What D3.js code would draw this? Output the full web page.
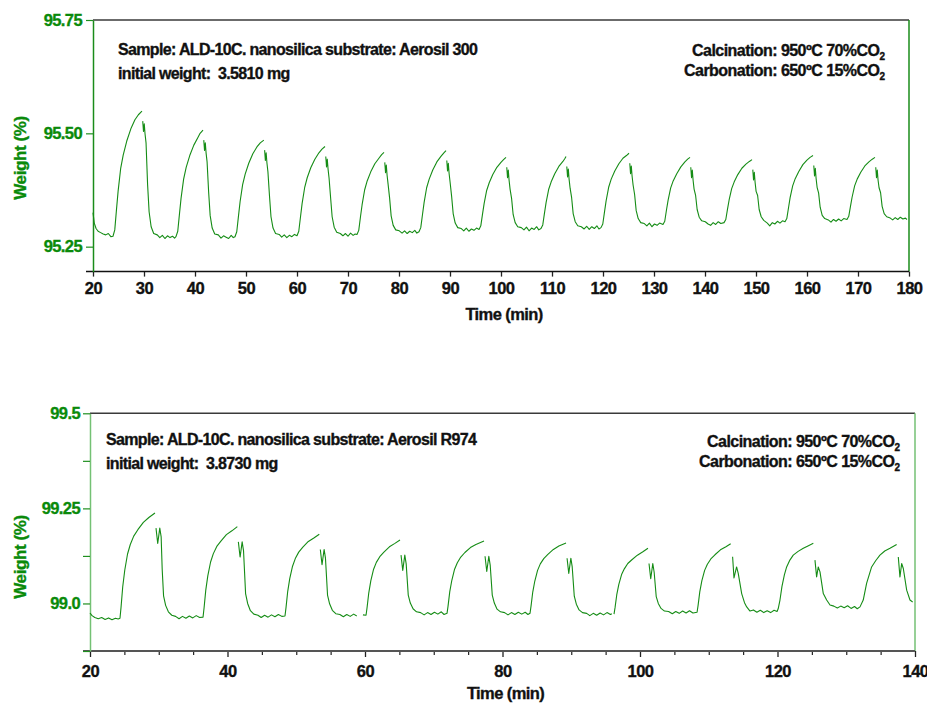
<!DOCTYPE html>
<html>
<head>
<meta charset="utf-8">
<script src="https://cdn.jsdelivr.net/npm/d3@7"></script>
<style>
    body { margin: 0; background: #fff; }
    svg text { font-family: "Liberation Sans", Arial, sans-serif; font-weight: bold; stroke-width: 0.35px; }
</style>
</head>
<body>
<div id="chart"></div>
<script>

// ---- data: [time (min), weight (%)], null = gap in the record ----

const topTrace = [
    [20.00,95.325],[20.25,95.302],[20.60,95.290],[21.00,95.284],[21.50,95.281],[22.00,95.278],[22.50,95.276],[23.00,95.279],[23.50,95.272],[23.92,95.273],
    [24.27,95.287],[24.62,95.334],[24.92,95.372],[25.42,95.422],[25.92,95.452],[26.62,95.483],[27.42,95.510],[28.22,95.530],[28.90,95.541],[29.60,95.549],[29.66,null],
    [29.75,95.527],[29.90,95.504],[30.05,95.521],[30.20,95.499],[30.40,95.479],[30.70,95.388],[31.00,95.327],[31.40,95.294],[31.90,95.279],[32.60,95.276],
    [33.10,95.270],[33.60,95.275],[34.10,95.268],[34.60,95.274],[35.10,95.270],[35.60,95.273],[36.00,95.269],[36.27,95.272],
    [36.62,95.284],[36.97,95.324],[37.27,95.357],[37.77,95.399],[38.27,95.425],[38.97,95.451],[39.77,95.474],[40.57,95.491],[41.00,95.500],[41.57,95.507],[41.63,null],
    [41.72,95.485],[41.87,95.462],[42.02,95.479],[42.17,95.457],[42.37,95.437],[42.67,95.371],[42.97,95.319],[43.37,95.291],[43.87,95.278],[44.57,95.276],
    [45.10,95.269],[45.60,95.274],[46.10,95.271],[46.60,95.268],[47.10,95.275],[47.50,95.270],[47.84,95.272],
    [48.19,95.283],[48.54,95.319],[48.84,95.349],[49.34,95.387],[49.84,95.410],[50.54,95.434],[51.34,95.455],[52.14,95.470],[52.80,95.479],[53.50,95.485],[53.56,null],
    [53.65,95.463],[53.80,95.440],[53.95,95.457],[54.10,95.435],[54.30,95.415],[54.60,95.363],[54.90,95.316],[55.30,95.291],[55.80,95.279],[56.50,95.277],
    [57.00,95.271],[57.50,95.276],[58.00,95.270],[58.50,95.275],[59.00,95.272],[59.50,95.277],[60.00,95.274],
    [60.35,95.284],[60.70,95.317],[61.00,95.345],[61.50,95.380],[62.00,95.402],[62.70,95.424],[63.50,95.443],[64.30,95.457],[64.90,95.465],[65.49,95.471],[65.55,null],
    [65.64,95.449],[65.79,95.426],[65.94,95.443],[66.09,95.421],[66.29,95.401],[66.59,95.358],[66.89,95.316],[67.29,95.293],[67.79,95.282],[68.49,95.279],
    [69.00,95.274],[69.50,95.279],[70.00,95.273],[70.50,95.280],[71.00,95.275],[71.40,95.278],[71.76,95.277],
    [72.11,95.286],[72.46,95.317],[72.76,95.342],[73.26,95.375],[73.76,95.395],[74.46,95.415],[75.26,95.433],[76.06,95.445],[76.60,95.453],[77.06,95.458],[77.12,null],
    [77.21,95.436],[77.36,95.413],[77.51,95.430],[77.66,95.408],[77.86,95.388],[78.16,95.357],[78.46,95.318],[78.86,95.297],[79.36,95.287],[80.06,95.285],
    [80.60,95.280],[81.10,95.285],[81.60,95.279],[82.10,95.284],[82.60,95.281],[83.10,95.286],[83.50,95.280],[83.92,95.283],
    [84.27,95.292],[84.62,95.322],[84.92,95.347],[85.42,95.380],[85.92,95.399],[86.62,95.419],[87.42,95.437],[88.22,95.449],[88.80,95.457],[89.22,95.462],[89.28,null],
    [89.37,95.440],[89.52,95.417],[89.67,95.434],[89.82,95.412],[90.02,95.392],[90.32,95.361],[90.62,95.323],[91.02,95.302],[91.52,95.292],[92.22,95.290],
    [92.70,95.285],[93.20,95.291],[93.70,95.284],[94.20,95.289],[94.70,95.286],[95.20,95.291],[95.69,95.288],
    [96.04,95.296],[96.39,95.323],[96.69,95.345],[97.19,95.374],[97.69,95.391],[98.39,95.409],[99.19,95.425],[99.99,95.436],[100.50,95.442],[100.98,95.447],[101.04,null],
    [101.13,95.425],[101.28,95.402],[101.43,95.419],[101.58,95.397],[101.78,95.377],[102.08,95.356],[102.38,95.321],[102.78,95.303],[103.28,95.294],[103.98,95.292],
    [104.50,95.287],[105.00,95.293],[105.50,95.285],[106.00,95.291],[106.50,95.288],[107.00,95.294],[107.40,95.287],[107.84,95.290],
    [108.19,95.298],[108.54,95.325],[108.84,95.347],[109.34,95.376],[109.84,95.393],[110.54,95.411],[111.34,95.427],[112.14,95.438],[112.50,95.444],[112.75,95.449],[112.81,null],
    [112.90,95.427],[113.05,95.404],[113.20,95.421],[113.35,95.399],[113.55,95.379],[113.85,95.358],[114.15,95.323],[114.55,95.305],[115.05,95.296],[115.75,95.294],
    [116.30,95.289],[116.80,95.295],[117.30,95.288],[117.80,95.294],[118.30,95.290],[118.80,95.296],[119.20,95.289],[119.61,95.292],
    [119.96,95.300],[120.31,95.328],[120.61,95.351],[121.11,95.381],[121.61,95.399],[122.31,95.417],[123.11,95.433],[123.91,95.445],[124.60,95.451],[125.10,95.456],[125.16,null],
    [125.25,95.434],[125.40,95.411],[125.55,95.428],[125.70,95.406],[125.90,95.386],[126.20,95.365],[126.50,95.330],[126.90,95.312],[127.40,95.303],[128.10,95.301],
    [128.60,95.296],[129.10,95.302],[129.60,95.294],[130.10,95.300],[130.60,95.297],[131.10,95.302],[131.76,95.299],
    [132.11,95.306],[132.46,95.332],[132.76,95.352],[133.26,95.379],[133.76,95.395],[134.46,95.411],[135.26,95.426],[136.06,95.437],[136.60,95.443],[137.06,95.447],[137.12,null],
    [137.21,95.425],[137.36,95.402],[137.51,95.419],[137.66,95.397],[137.86,95.377],[138.16,95.363],[138.46,95.332],[138.86,95.315],[139.36,95.307],[140.06,95.305],
    [140.60,95.300],[141.10,95.297],[141.60,95.303],[142.10,95.299],[142.60,95.305],[143.10,95.301],[143.73,95.303],
    [144.08,95.310],[144.43,95.334],[144.73,95.353],[145.23,95.378],[145.73,95.393],[146.43,95.409],[147.23,95.423],[148.03,95.432],[148.70,95.438],[149.22,95.442],[149.28,null],
    [149.37,95.420],[149.52,95.397],[149.67,95.414],[149.82,95.392],[150.02,95.372],[150.32,95.363],[150.62,95.332],[151.02,95.316],[151.52,95.308],[152.22,95.302],
    [152.70,95.296],[153.20,95.303],[153.70,95.300],[154.20,95.306],[154.70,95.302],[155.20,95.307],[155.69,95.305],
    [156.04,95.312],[156.39,95.337],[156.69,95.358],[157.19,95.384],[157.69,95.400],[158.39,95.416],[159.19,95.431],[159.99,95.441],[160.60,95.447],[161.18,95.451],[161.24,null],
    [161.33,95.429],[161.48,95.406],[161.63,95.423],[161.78,95.401],[161.98,95.381],[162.28,95.368],[162.58,95.337],[162.98,95.319],[163.48,95.312],[164.18,95.309],
    [164.70,95.304],[165.20,95.310],[165.70,95.306],[166.20,95.311],[166.70,95.307],[167.20,95.312],[167.84,95.310],
    [168.19,95.317],[168.54,95.340],[168.84,95.359],[169.34,95.384],[169.84,95.399],[170.54,95.414],[171.34,95.428],[172.14,95.437],[172.80,95.443],[173.33,95.447],[173.39,null],
    [173.48,95.425],[173.63,95.402],[173.78,95.419],[173.93,95.397],[174.13,95.380],[174.43,95.369],[174.73,95.339],[175.13,95.323],[175.63,95.316],[176.33,95.313],
    [176.80,95.309],[177.30,95.314],[177.80,95.310],[178.30,95.315],[178.80,95.311],[179.30,95.313],[179.60,95.310]
];

const bottomTrace = [
    [20.00,98.975],[20.30,98.968],[20.70,98.963],[21.20,98.960],[21.70,98.963],[22.20,98.958],[22.70,98.962],[23.20,98.957],[23.70,98.961],[24.10,98.959],[24.36,98.961],
    [24.51,98.989],[24.76,99.044],[25.06,99.088],[25.46,99.130],[25.86,99.155],[26.36,99.177],[26.96,99.194],[27.76,99.213],[28.56,99.226],[29.45,99.238],[29.52,null],
    [29.60,99.198],[29.85,99.158],[30.15,99.198],[30.35,99.175],[30.50,99.090],[30.70,99.020],[31.00,98.995],[31.40,98.978],[31.90,98.969],[32.45,98.966],
    [32.95,98.960],[33.45,98.966],[33.95,98.961],[34.45,98.967],[34.95,98.962],[35.45,98.968],[35.95,98.963],[36.44,98.964],
    [36.59,98.988],[36.84,99.035],[37.14,99.073],[37.54,99.109],[37.94,99.131],[38.44,99.150],[39.04,99.164],[39.84,99.181],[40.64,99.191],[41.43,99.202],[41.50,null],
    [41.58,99.162],[41.83,99.122],[42.13,99.162],[42.33,99.139],[42.63,99.026],[42.93,99.000],[43.33,98.981],[43.83,98.972],[44.43,98.969],
    [44.90,98.963],[45.40,98.969],[45.90,98.964],[46.40,98.970],[46.90,98.965],[47.40,98.971],[47.90,98.966],[48.36,98.967],
    [48.51,98.989],[48.76,99.032],[49.06,99.066],[49.46,99.098],[49.86,99.118],[50.36,99.135],[50.96,99.148],[51.76,99.163],[52.56,99.172],[53.35,99.182],[53.42,null],
    [53.50,99.142],[53.75,99.102],[54.05,99.142],[54.25,99.119],[54.55,99.022],[54.85,98.999],[55.25,98.982],[55.75,98.973],[56.35,98.971],
    [56.85,98.965],[57.35,98.971],[57.85,98.966],[58.35,98.972],[58.80,98.967],[59.20,null],[59.70,98.970],[60.15,98.969],
    [60.30,98.989],[60.55,99.028],[60.85,99.060],[61.25,99.090],[61.65,99.108],[62.15,99.123],[62.75,99.135],[63.55,99.149],[64.35,99.158],[65.09,99.167],[65.16,null],
    [65.24,99.127],[65.49,99.087],[65.79,99.127],[65.99,99.104],[66.29,99.022],[66.59,99.001],[66.99,98.986],[67.49,98.978],[68.09,98.976],
    [68.60,98.970],[69.10,98.976],[69.60,98.971],[70.10,98.977],[70.60,98.972],[71.10,98.978],[71.50,98.971],[71.93,98.974],
    [72.08,98.993],[72.33,99.031],[72.63,99.061],[73.03,99.090],[73.43,99.107],[73.93,99.122],[74.53,99.134],[75.33,99.147],[76.13,99.155],[77.31,99.164],[77.38,null],
    [77.46,99.124],[77.71,99.084],[78.01,99.124],[78.21,99.101],[78.51,99.022],[78.81,99.001],[79.21,98.985],[79.71,98.978],[80.31,98.976],
    [80.80,98.970],[81.30,98.976],[81.80,98.971],[82.30,98.977],[82.80,98.972],[83.30,98.977],[83.70,98.971],[84.00,98.974],
    [84.15,98.993],[84.40,99.030],[84.70,99.059],[85.10,99.087],[85.50,99.104],[86.00,99.118],[86.60,99.129],[87.40,99.142],[88.20,99.151],[89.24,99.159],[89.31,null],
    [89.39,99.119],[89.64,99.079],[89.94,99.119],[90.14,99.096],[90.44,99.019],[90.74,98.998],[91.14,98.983],[91.64,98.976],[92.24,98.974],
    [92.70,98.968],[93.20,98.974],[93.70,98.969],[94.20,98.975],[94.70,98.970],[95.20,98.976],[95.70,98.971],[95.90,98.973],[96.05,null],
    [96.22,98.972],[96.37,98.989],[96.62,99.023],[96.92,99.050],[97.32,99.076],[97.72,99.091],[98.22,99.105],[98.82,99.115],[99.62,99.127],[100.42,99.136],[101.16,99.145],[101.23,null],
    [101.31,99.105],[101.56,99.065],[101.86,99.105],[102.06,99.082],[102.36,99.018],[102.66,99.000],[103.06,98.987],[103.56,98.980],[104.16,98.979],
    [104.70,98.973],[105.20,98.979],[105.70,98.974],[106.20,98.980],[106.70,98.975],[107.20,98.981],[107.70,98.975],[108.30,98.977],
    [108.45,98.995],[108.70,99.031],[109.00,99.060],[109.40,99.087],[109.80,99.103],[110.30,99.117],[110.90,99.128],[111.70,99.141],[112.50,99.149],[113.19,99.157],[113.26,null],
    [113.47,99.123],[113.67,99.067],[114.05,99.096],[114.29,99.079],[114.79,99.026],[115.20,99.002],[115.52,98.991],[116.00,98.980],
    [116.50,98.983],[117.00,98.977],[117.50,98.982],[118.00,98.976],[118.50,98.981],[119.00,98.976],[119.50,98.982],[119.93,98.979],
    [120.10,98.986],[120.36,99.009],[120.65,99.045],[121.00,99.075],[121.33,99.096],[121.80,99.114],[122.29,99.127],[123.00,99.137],[123.75,99.145],[124.50,99.152],[125.21,99.158],[125.28,null],
    [125.45,99.114],[125.69,99.070],[125.93,99.096],[126.18,99.083],[126.66,99.026],[127.15,99.009],[127.64,98.996],[128.20,98.993],
    [128.70,98.988],[129.20,98.993],[129.70,98.989],[130.20,98.994],[130.70,98.987],[131.20,98.992],[131.60,98.986],[132.00,98.991],[132.47,99.009],
    [132.96,99.053],[133.69,99.096],[134.30,99.113],[134.90,99.127],[135.60,99.138],[136.36,99.145],[137.33,99.155],[137.40,null],
    [137.57,99.122],[137.81,99.070],[138.06,99.105],[138.30,99.092],[138.79,99.035],[139.27,99.009],[139.66,99.004]
];

// axis ticks
const topXTicks = d3.range(20, 181, 10);
const topYTicks = [95.25, 95.50, 95.75];
const bottomXTicks = [20, 40, 60, 80, 100, 120, 140];
const bottomXMinor = d3.range(25, 140, 5).filter(d => d % 20 !== 0);
const bottomYTicks = [99.0, 99.25, 99.5];
const bottomYMinor = [98.875, 99.125, 99.375];

// annotation texts
const topSample = ["Sample: ALD-10C. nanosilica substrate: Aerosil 300", "initial weight:  3.5810 mg"];
const bottomSample = ["Sample: ALD-10C. nanosilica substrate: Aerosil R974", "initial weight:  3.8730 mg"];
const conditions = [["Calcination: 950ºC 70%CO", "2"], ["Carbonation: 650ºC 15%CO", "2"]];


class TgaPanel {

    constructor(svg, opts) {
        this.svg = svg;
        this.opts = opts;
        this.initVis();
    }

    initVis() {
        let vis = this;
        let o = vis.opts;

        vis.x = d3.scaleLinear().domain(o.xDomain).range([o.left, o.right]);
        vis.y = d3.scaleLinear().domain(o.yDomain).range([o.bottom, o.top]);

        vis.g = vis.svg.append("g");

        // frame: top edge dark, right edge green
        vis.g.append("line")
            .attr("x1", o.left).attr("x2", o.right)
            .attr("y1", vis.y(o.yDomain[1])).attr("y2", vis.y(o.yDomain[1]))
            .attr("stroke", "#3a3a3a").attr("stroke-width", 1.5);
        vis.g.append("line")
            .attr("x1", o.right).attr("x2", o.right)
            .attr("y1", o.top).attr("y2", o.bottom)
            .attr("stroke", o.frameGreen).attr("stroke-width", 1.5);

        // x axis
        let xAxis = d3.axisBottom(vis.x)
            .tickValues(o.xTicks)
            .tickSize(o.xTickSize)
            .tickSizeOuter(0)
            .tickPadding(o.xTickPad);

        let xg = vis.g.append("g")
            .attr("transform", `translate(0,${o.bottom})`)
            .call(xAxis);
        xg.select(".domain").remove();
        xg.selectAll(".tick line").attr("stroke", "#222").attr("stroke-width", 1.3);
        xg.selectAll(".tick text")
            .attr("fill", "#111").attr("stroke", "#111")
            .style("font-size", "16.5px")
            .style("letter-spacing", "-0.5px");

        if (o.xMinor) {
            let xm = vis.g.append("g")
                .attr("transform", `translate(0,${o.bottom})`)
                .call(d3.axisBottom(vis.x).tickValues(o.xMinor).tickSize(4).tickFormat(""));
            xm.select(".domain").remove();
            xm.selectAll(".tick line").attr("stroke", "#222").attr("stroke-width", 1.2);
        }

        vis.g.append("line")
            .attr("x1", o.left - 7).attr("x2", o.right)
            .attr("y1", o.bottom).attr("y2", o.bottom)
            .attr("stroke", o.xAxisColor).attr("stroke-width", o.xAxisWidth);

        // y axis
        let yAxis = d3.axisLeft(vis.y)
            .tickValues(o.yTicks)
            .tickFormat(o.yFormat)
            .tickSize(7)
            .tickSizeOuter(0)
            .tickPadding(o.yTickPad);

        let yg = vis.g.append("g")
            .attr("transform", `translate(${o.left},0)`)
            .call(yAxis);
        yg.select(".domain").attr("stroke", o.frameGreen).attr("stroke-width", 1.5);
        yg.selectAll(".tick line").attr("stroke", "#1f8f1f").attr("stroke-width", 1.2);
        yg.selectAll(".tick text")
            .attr("fill", "#0a8a0a").attr("stroke", "#0a8a0a")
            .style("font-size", "16.5px")
            .style("letter-spacing", "-0.6px");

        if (o.yMinor) {
            let ym = vis.g.append("g")
                .attr("transform", `translate(${o.left},0)`)
                .call(d3.axisLeft(vis.y).tickValues(o.yMinor).tickSize(7).tickFormat(""));
            ym.select(".domain").remove();
            ym.selectAll(".tick line").attr("stroke", "#1f8f1f").attr("stroke-width", 1.2);
        }

        // axis titles
        vis.g.append("text")
            .attr("x", (o.left + o.right) / 2 + 3)
            .attr("y", o.xTitleY)
            .attr("text-anchor", "middle")
            .attr("fill", "#111").attr("stroke", "#111")
            .style("font-size", "16.5px")
            .style("letter-spacing", "-0.6px")
            .text("Time (min)");

        vis.g.append("text")
            .attr("transform", `translate(26,${o.yTitleY}) rotate(-90)`)
            .attr("text-anchor", "middle")
            .attr("fill", "#0a8a0a").attr("stroke", "#0a8a0a")
            .style("font-size", "17px")
            .style("letter-spacing", "-0.4px")
            .text("Weight (%)");

        // the weight trace
        let line = d3.line()
            .defined(d => d[1] !== null)
            .x(d => vis.x(d[0]))
            .y(d => vis.y(d[1]));

        vis.g.append("path")
            .datum(o.trace)
            .attr("fill", "none")
            .attr("stroke", "#158c15")
            .attr("stroke-width", 1.1)
            .attr("stroke-linejoin", "round")
            .attr("d", line);

        // notes
        vis.g.selectAll(".sample")
            .data(o.sample)
            .enter().append("text")
            .attr("class", "sample")
            .attr("x", o.sampleX)
            .attr("y", (d, i) => o.sampleY + i * 24)
            .attr("fill", "#111").attr("stroke", "#111")
            .style("font-size", "16px")
            .style("letter-spacing", "-0.65px")
            .style("white-space", "pre")
            .text(d => d);

        let cond = vis.g.selectAll(".cond")
            .data(conditions)
            .enter().append("text")
            .attr("class", "cond")
            .attr("x", o.condX)
            .attr("y", (d, i) => o.condY + i * 20)
            .attr("text-anchor", "end")
            .attr("fill", "#111").attr("stroke", "#111")
            .style("font-size", "16px")
            .style("letter-spacing", "-0.55px");
        cond.append("tspan").text(d => d[0]);
        cond.append("tspan")
            .attr("dy", 4)
            .style("font-size", "10px")
            .style("letter-spacing", "0px")
            .text(d => d[1]);
    }
}

const svg = d3.select("#chart").append("svg")
    .attr("width", 927)
    .attr("height", 706);

new TgaPanel(svg, {
    trace: topTrace,
    xDomain: [20, 180], yDomain: [95.195, 95.75],
    left: 93, right: 909, top: 20, bottom: 271.6,
    xTicks: topXTicks, xTickSize: 5, xTickPad: 6,
    yTicks: topYTicks, yFormat: d3.format(".2f"), yTickPad: 4,
    xAxisColor: "#111", xAxisWidth: 1.5,
    frameGreen: "#1a8c1a",
    xTitleY: 320, yTitleY: 158,
    sample: topSample, sampleX: 118, sampleY: 55,
    condX: 885, condY: 56
});

new TgaPanel(svg, {
    trace: bottomTrace,
    xDomain: [20, 140], yDomain: [98.875, 99.5],
    left: 90, right: 915, top: 413.3, bottom: 651,
    xTicks: bottomXTicks, xTickSize: 6, xTickPad: 8, xMinor: bottomXMinor,
    yTicks: bottomYTicks, yFormat: d => d === 99.25 ? "99.25" : d3.format(".1f")(d), yTickPad: 3,
    yMinor: bottomYMinor,
    xAxisColor: "#555", xAxisWidth: 2,
    frameGreen: "#74c174",
    xTitleY: 699, yTitleY: 557,
    sample: bottomSample, sampleX: 106, sampleY: 445,
    condX: 900, condY: 447
});

</script>
</body>
</html>
